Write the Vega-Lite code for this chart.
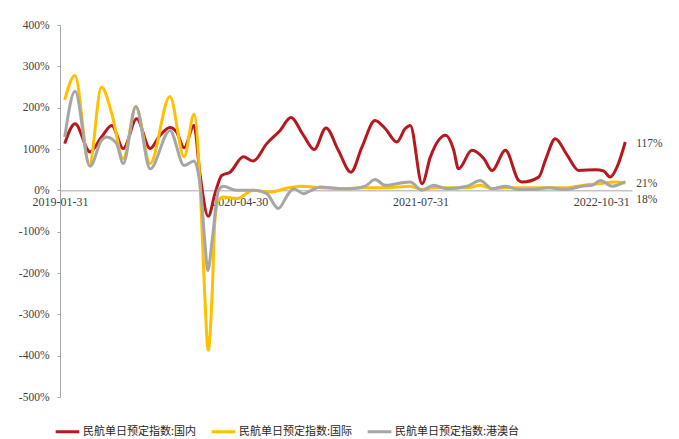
{
  "$schema": "https://vega.github.io/schema/vega-lite/v6.json",
  "width": 572,
  "height": 372,
  "autosize": {"type": "none"},
  "padding": {"left": 60, "top": 25, "right": 47, "bottom": 42},
  "background": "white",
  "config": {
    "view": {"stroke": null},
    "font": "Liberation Serif"
  },
  "datasets": {
    "series": [
      {"date": "2019-02-12", "series": "民航单日预定指数:国内", "value": 113},
      {"date": "2019-03-10", "series": "民航单日预定指数:国内", "value": 161},
      {"date": "2019-04-17", "series": "民航单日预定指数:国内", "value": 93},
      {"date": "2019-05-16", "series": "民航单日预定指数:国内", "value": 129},
      {"date": "2019-06-11", "series": "民航单日预定指数:国内", "value": 157},
      {"date": "2019-07-10", "series": "民航单日预定指数:国内", "value": 101},
      {"date": "2019-08-13", "series": "民航单日预定指数:国内", "value": 173},
      {"date": "2019-09-16", "series": "民航单日预定指数:国内", "value": 101},
      {"date": "2019-10-11", "series": "民航单日预定指数:国内", "value": 133},
      {"date": "2019-11-05", "series": "民航单日预定指数:国内", "value": 152},
      {"date": "2019-11-22", "series": "民航单日预定指数:国内", "value": 141},
      {"date": "2019-12-11", "series": "民航单日预定指数:国内", "value": 103},
      {"date": "2020-01-05", "series": "民航单日预定指数:国内", "value": 157},
      {"date": "2020-01-20", "series": "民航单日预定指数:国内", "value": 40},
      {"date": "2020-02-10", "series": "民航单日预定指数:国内", "value": -63},
      {"date": "2020-02-27", "series": "民航单日预定指数:国内", "value": -8},
      {"date": "2020-03-15", "series": "民航单日预定指数:国内", "value": 36},
      {"date": "2020-04-05", "series": "民航单日预定指数:国内", "value": 44},
      {"date": "2020-05-09", "series": "民航单日预定指数:国内", "value": 81},
      {"date": "2020-06-03", "series": "民航单日预定指数:国内", "value": 71},
      {"date": "2020-07-07", "series": "民航单日预定指数:国内", "value": 113},
      {"date": "2020-08-10", "series": "民航单日预定指数:国内", "value": 145},
      {"date": "2020-09-06", "series": "民航单日预定指数:国内", "value": 176},
      {"date": "2020-10-08", "series": "民航单日预定指数:国内", "value": 133},
      {"date": "2020-11-04", "series": "民航单日预定指数:国内", "value": 99},
      {"date": "2020-12-04", "series": "民航单日预定指数:国内", "value": 151},
      {"date": "2021-01-04", "series": "民航单日预定指数:国内", "value": 97},
      {"date": "2021-02-05", "series": "民航单日预定指数:国内", "value": 44},
      {"date": "2021-03-05", "series": "民航单日预定指数:国内", "value": 105},
      {"date": "2021-04-07", "series": "民航单日预定指数:国内", "value": 169},
      {"date": "2021-05-03", "series": "民航单日预定指数:国内", "value": 149},
      {"date": "2021-06-01", "series": "民航单日预定指数:国内", "value": 117},
      {"date": "2021-06-22", "series": "民航单日预定指数:国内", "value": 149},
      {"date": "2021-07-05", "series": "民航单日预定指数:国内", "value": 157},
      {"date": "2021-08-04", "series": "民航单日预定指数:国内", "value": 16},
      {"date": "2021-08-25", "series": "民航单日预定指数:国内", "value": 81},
      {"date": "2021-10-02", "series": "民航单日预定指数:国内", "value": 133},
      {"date": "2021-10-23", "series": "民航单日预定指数:国内", "value": 97},
      {"date": "2021-11-04", "series": "民航单日预定指数:国内", "value": 52},
      {"date": "2021-12-08", "series": "民航单日预定指数:国内", "value": 97},
      {"date": "2022-01-07", "series": "民航单日预定指数:国内", "value": 77},
      {"date": "2022-01-28", "series": "民航单日预定指数:国内", "value": 48},
      {"date": "2022-03-03", "series": "民航单日预定指数:国内", "value": 97},
      {"date": "2022-04-05", "series": "民航单日预定指数:国内", "value": 24},
      {"date": "2022-04-14", "series": "民航单日预定指数:国内", "value": 20},
      {"date": "2022-05-26", "series": "民航单日预定指数:国内", "value": 32},
      {"date": "2022-06-12", "series": "民航单日预定指数:国内", "value": 73},
      {"date": "2022-07-07", "series": "民航单日预定指数:国内", "value": 125},
      {"date": "2022-08-06", "series": "民航单日预定指数:国内", "value": 85},
      {"date": "2022-09-04", "series": "民航单日预定指数:国内", "value": 48},
      {"date": "2022-10-17", "series": "民航单日预定指数:国内", "value": 50},
      {"date": "2022-11-06", "series": "民航单日预定指数:国内", "value": 47},
      {"date": "2022-11-23", "series": "民航单日预定指数:国内", "value": 32},
      {"date": "2022-12-10", "series": "民航单日预定指数:国内", "value": 56},
      {"date": "2022-12-31", "series": "民航单日预定指数:国内", "value": 117},

      {"date": "2019-02-12", "series": "民航单日预定指数:国际", "value": 219},
      {"date": "2019-03-10", "series": "民航单日预定指数:国际", "value": 278},
      {"date": "2019-04-15", "series": "民航单日预定指数:国际", "value": 60},
      {"date": "2019-05-16", "series": "民航单日预定指数:国际", "value": 250},
      {"date": "2019-06-11", "series": "民航单日预定指数:国际", "value": 186},
      {"date": "2019-07-10", "series": "民航单日预定指数:国际", "value": 77},
      {"date": "2019-08-11", "series": "民航单日预定指数:国际", "value": 203},
      {"date": "2019-09-16", "series": "民航单日预定指数:国际", "value": 65},
      {"date": "2019-11-05", "series": "民航单日预定指数:国际", "value": 227},
      {"date": "2019-12-11", "series": "民航单日预定指数:国际", "value": 81},
      {"date": "2020-01-05", "series": "民航单日预定指数:国际", "value": 184},
      {"date": "2020-01-22", "series": "民航单日预定指数:国际", "value": -20},
      {"date": "2020-02-01", "series": "民航单日预定指数:国际", "value": -250},
      {"date": "2020-02-10", "series": "民航单日预定指数:国际", "value": -387},
      {"date": "2020-02-20", "series": "民航单日预定指数:国际", "value": -250},
      {"date": "2020-02-27", "series": "民航单日预定指数:国际", "value": -70},
      {"date": "2020-03-07", "series": "民航单日预定指数:国际", "value": -24},
      {"date": "2020-03-19", "series": "民航单日预定指数:国际", "value": -16},
      {"date": "2020-04-22", "series": "民航单日预定指数:国际", "value": -20},
      {"date": "2020-06-03", "series": "民航单日预定指数:国际", "value": 0},
      {"date": "2020-07-16", "series": "民航单日预定指数:国际", "value": -4},
      {"date": "2020-08-31", "series": "民航单日预定指数:国际", "value": 6},
      {"date": "2020-10-04", "series": "民航单日预定指数:国际", "value": 10},
      {"date": "2020-11-19", "series": "民航单日预定指数:国际", "value": 6},
      {"date": "2021-01-09", "series": "民航单日预定指数:国际", "value": 4},
      {"date": "2021-03-13", "series": "民航单日预定指数:国际", "value": 6},
      {"date": "2021-05-03", "series": "民航单日预定指数:国际", "value": 6},
      {"date": "2021-07-05", "series": "民航单日预定指数:国际", "value": 10},
      {"date": "2021-08-04", "series": "民航单日预定指数:国际", "value": 2},
      {"date": "2021-09-02", "series": "民航单日预定指数:国际", "value": 6},
      {"date": "2021-11-26", "series": "民航单日预定指数:国际", "value": 6},
      {"date": "2021-12-29", "series": "民航单日预定指数:国际", "value": 12},
      {"date": "2022-01-28", "series": "民航单日预定指数:国际", "value": 4},
      {"date": "2022-03-03", "series": "民航单日预定指数:国际", "value": 6},
      {"date": "2022-05-09", "series": "民航单日预定指数:国际", "value": 6},
      {"date": "2022-08-02", "series": "民航单日预定指数:国际", "value": 6},
      {"date": "2022-09-13", "series": "民航单日预定指数:国际", "value": 12},
      {"date": "2022-10-25", "series": "民航单日预定指数:国际", "value": 16},
      {"date": "2022-12-06", "series": "民航单日预定指数:国际", "value": 20},
      {"date": "2022-12-31", "series": "民航单日预定指数:国际", "value": 18},

      {"date": "2019-02-12", "series": "民航单日预定指数:港澳台", "value": 129},
      {"date": "2019-03-10", "series": "民航单日预定指数:港澳台", "value": 240},
      {"date": "2019-04-17", "series": "民航单日预定指数:港澳台", "value": 58},
      {"date": "2019-05-16", "series": "民航单日预定指数:港澳台", "value": 121},
      {"date": "2019-05-29", "series": "民航单日预定指数:港澳台", "value": 129},
      {"date": "2019-06-23", "series": "民航单日预定指数:港澳台", "value": 113},
      {"date": "2019-07-10", "series": "民航单日预定指数:港澳台", "value": 65},
      {"date": "2019-08-11", "series": "民航单日预定指数:港澳台", "value": 202},
      {"date": "2019-09-16", "series": "民航单日预定指数:港澳台", "value": 52},
      {"date": "2019-11-05", "series": "民航单日预定指数:港澳台", "value": 145},
      {"date": "2019-12-11", "series": "民航单日预定指数:港澳台", "value": 60},
      {"date": "2020-01-05", "series": "民航单日预定指数:港澳台", "value": 71},
      {"date": "2020-01-22", "series": "民航单日预定指数:港澳台", "value": 0},
      {"date": "2020-02-01", "series": "民航单日预定指数:港澳台", "value": -120},
      {"date": "2020-02-09", "series": "民航单日预定指数:港澳台", "value": -194},
      {"date": "2020-02-20", "series": "民航单日预定指数:港澳台", "value": -120},
      {"date": "2020-03-07", "series": "民航单日预定指数:港澳台", "value": 0},
      {"date": "2020-03-19", "series": "民航单日预定指数:港澳台", "value": 10},
      {"date": "2020-04-22", "series": "民航单日预定指数:港澳台", "value": 0},
      {"date": "2020-06-03", "series": "民航单日预定指数:港澳台", "value": 0},
      {"date": "2020-07-07", "series": "民航单日预定指数:港澳台", "value": -8},
      {"date": "2020-08-05", "series": "民航单日预定指数:港澳台", "value": -44},
      {"date": "2020-08-31", "series": "民航单日预定指数:港澳台", "value": -8},
      {"date": "2020-09-13", "series": "民航单日预定指数:港澳台", "value": 4},
      {"date": "2020-10-08", "series": "民航单日预定指数:港澳台", "value": -8},
      {"date": "2020-11-01", "series": "民航单日预定指数:港澳台", "value": 2},
      {"date": "2020-11-19", "series": "民航单日预定指数:港澳台", "value": 8},
      {"date": "2021-01-09", "series": "民航单日预定指数:港澳台", "value": 4},
      {"date": "2021-02-07", "series": "民航单日预定指数:港澳台", "value": 4},
      {"date": "2021-03-13", "series": "民航单日预定指数:港澳台", "value": 10},
      {"date": "2021-04-07", "series": "民航单日预定指数:港澳台", "value": 26},
      {"date": "2021-05-03", "series": "民航单日预定指数:港澳台", "value": 12},
      {"date": "2021-06-01", "series": "民航单日预定指数:港澳台", "value": 16},
      {"date": "2021-07-05", "series": "民航单日预定指数:港澳台", "value": 20},
      {"date": "2021-08-04", "series": "民航单日预定指数:港澳台", "value": 0},
      {"date": "2021-09-02", "series": "民航单日预定指数:港澳台", "value": 12},
      {"date": "2021-10-06", "series": "民航单日预定指数:港澳台", "value": 4},
      {"date": "2021-11-26", "series": "民航单日预定指数:港澳台", "value": 10},
      {"date": "2021-12-29", "series": "民航单日预定指数:港澳台", "value": 24},
      {"date": "2022-01-28", "series": "民航单日预定指数:港澳台", "value": 4},
      {"date": "2022-03-03", "series": "民航单日预定指数:港澳台", "value": 10},
      {"date": "2022-04-05", "series": "民航单日预定指数:港澳台", "value": 2},
      {"date": "2022-05-09", "series": "民航单日预定指数:港澳台", "value": 2},
      {"date": "2022-06-20", "series": "民航单日预定指数:港澳台", "value": 6},
      {"date": "2022-08-02", "series": "民航单日预定指数:港澳台", "value": 2},
      {"date": "2022-09-13", "series": "民航单日预定指数:港澳台", "value": 10},
      {"date": "2022-10-08", "series": "民航单日预定指数:港澳台", "value": 12},
      {"date": "2022-10-29", "series": "民航单日预定指数:港澳台", "value": 24},
      {"date": "2022-11-28", "series": "民航单日预定指数:港澳台", "value": 10},
      {"date": "2022-12-31", "series": "民航单日预定指数:港澳台", "value": 21}
    ],
    "endLabels": [
      {"date": "2022-12-31", "series": "民航单日预定指数:国内", "value": 117, "label": "117%"},
      {"date": "2022-12-31", "series": "民航单日预定指数:港澳台", "value": 21, "label": "21%"},
      {"date": "2022-12-31", "series": "民航单日预定指数:国际", "value": 18, "label": "18%"}
    ]
  },
  "layer": [
    {
      "data": {"name": "series"},
      "mark": {"type": "line", "strokeWidth": 3, "interpolate": "monotone", "clip": false},
      "encoding": {
        "x": {
          "field": "date",
          "type": "temporal",
          "scale": {"domain": [{"year": 2019, "month": 1, "date": 31}, {"year": 2023, "month": 1, "date": 17}]},
          "axis": {
            "orient": "bottom",
            "offset": -206.67,
            "title": null,
            "values": [
              {"year": 2019, "month": 1, "date": 31},
              {"year": 2020, "month": 4, "date": 30},
              {"year": 2021, "month": 7, "date": 31},
              {"year": 2022, "month": 10, "date": 31}
            ],
            "format": "%Y-%m-%d",
            "grid": false,
            "ticks": false,
            "domainColor": "#A6A6A6",
            "domainWidth": 1,
            "labelFont": "Liberation Serif",
            "labelFontSize": 12,
            "labelColor": "#404040",
            "labelPadding": 6,
            "labelOverlap": false,
            "labelFlush": false,
            "labelBound": false
          }
        },
        "y": {
          "field": "value",
          "type": "quantitative",
          "scale": {"domain": [-500, 400], "nice": false},
          "axis": {
            "title": null,
            "values": [-500, -400, -300, -200, -100, 0, 100, 200, 300, 400],
            "labelExpr": "datum.value + '%'",
            "grid": false,
            "tickSize": 3,
            "tickColor": "#A6A6A6",
            "domainColor": "#A6A6A6",
            "domainWidth": 1,
            "labelFont": "Liberation Serif",
            "labelFontSize": 11.5,
            "labelColor": "#404040",
            "labelPadding": 8
          }
        },
        "color": {
          "field": "series",
          "type": "nominal",
          "scale": {
            "domain": ["民航单日预定指数:国内", "民航单日预定指数:国际", "民航单日预定指数:港澳台"],
            "range": ["#B7171D", "#FFC000", "#A6A6A6"]
          },
          "legend": {
            "title": null,
            "orient": "none",
            "legendX": -6,
            "legendY": 393,
            "direction": "horizontal",
            "symbolType": "stroke",
            "symbolSize": 560,
            "symbolStrokeWidth": 3,
            "labelFont": "Noto Sans CJK SC",
            "labelFontSize": 11,
            "labelColor": "#262626",
            "labelOffset": 2,
            "columnPadding": 8,
            "labelLimit": 300
          }
        }
      }
    },
    {
      "data": {"name": "endLabels"},
      "transform": [{"filter": "datum.label != '18%'"}],
      "mark": {"type": "text", "align": "left", "baseline": "middle", "dx": 11, "dy": 2, "font": "Liberation Serif", "fontSize": 11.5, "color": "#404040"},
      "encoding": {
        "x": {"field": "date", "type": "temporal"},
        "y": {"field": "value", "type": "quantitative"},
        "text": {"field": "label"}
      }
    },
    {
      "data": {"name": "endLabels"},
      "transform": [{"filter": "datum.label == '18%'"}],
      "mark": {"type": "text", "align": "left", "baseline": "middle", "dx": 11, "dy": 17, "font": "Liberation Serif", "fontSize": 11.5, "color": "#404040"},
      "encoding": {
        "x": {"field": "date", "type": "temporal"},
        "y": {"field": "value", "type": "quantitative"},
        "text": {"field": "label"}
      }
    }
  ]
}
